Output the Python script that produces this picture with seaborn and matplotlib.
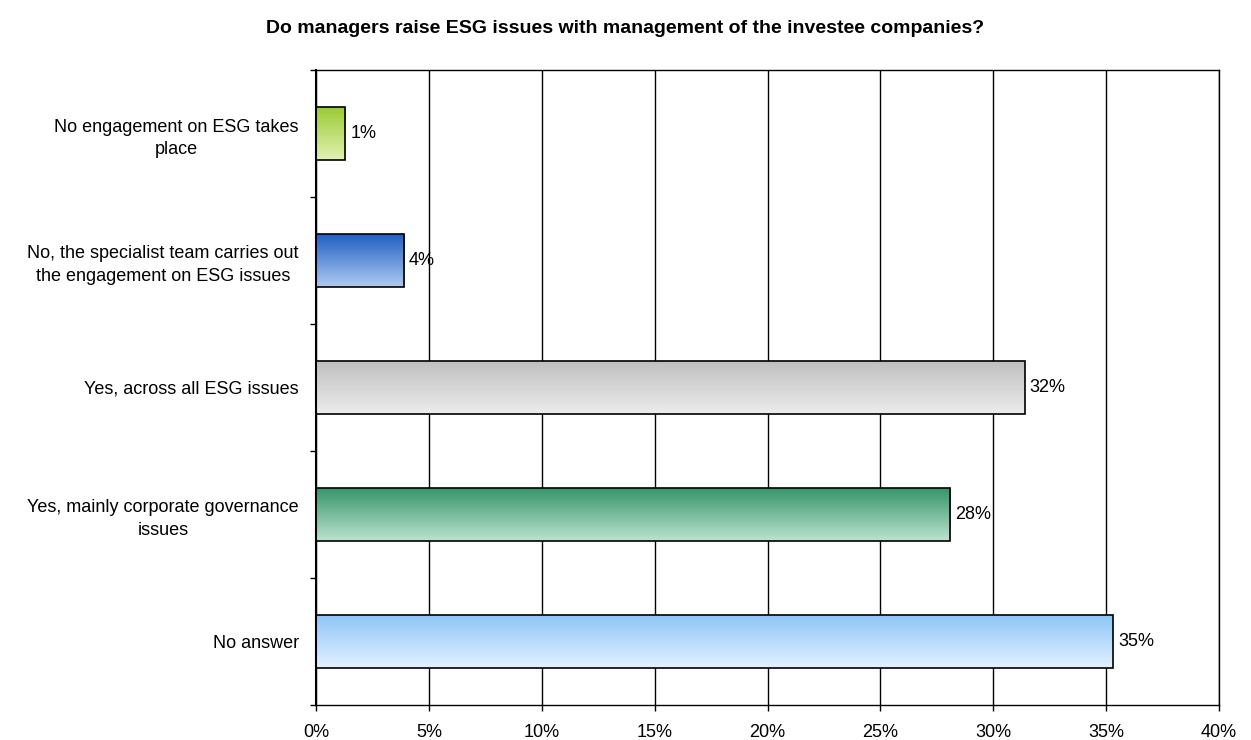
import seaborn as sns
import numpy as np
import matplotlib.pyplot as plt
import matplotlib.colors as mcolors
import pandas as pd

categories = [
    "No engagement on ESG takes\nplace",
    "No, the specialist team carries out\nthe engagement on ESG issues",
    "Yes, across all ESG issues",
    "Yes, mainly corporate governance\nissues",
    "No answer",
]
values = [1.3, 3.9, 31.4, 28.1, 35.3]
labels = ["1%", "4%", "32%", "28%", "35%"]
# gradient colours (top, bottom) for each bar
gradients = [
    ("#9acb34", "#e2f2b4"),
    ("#1f5fc4", "#aecbf0"),
    ("#c0c0c0", "#ececec"),
    ("#35956a", "#bde3cf"),
    ("#8ec6f8", "#e3f1ff"),
]
title = "Do managers raise ESG issues with management of the investee companies?"

sns.set_style("white")
plt.rcParams["font.family"] = ["Liberation Sans", "DejaVu Sans"]
plt.rcParams["text.color"] = "black"
plt.rcParams["xtick.color"] = "black"
plt.rcParams["ytick.color"] = "black"

df = pd.DataFrame({"cat": categories, "val": values})

fig = plt.figure(figsize=(12.51, 7.40), dpi=100)
ax = fig.add_axes([316 / 1251, 35 / 740, 903 / 1251, 635 / 740])

sns.barplot(data=df, x="val", y="cat", orient="h", width=0.41,
            color="white", edgecolor="black", linewidth=1.2, ax=ax)

# gradient fill clipped to each bar
for patch, (c_top, c_bot) in zip(ax.patches, gradients):
    x0, y0 = patch.get_x(), patch.get_y()
    w, h = patch.get_width(), patch.get_height()
    cmap = mcolors.LinearSegmentedColormap.from_list("g", [c_top, c_bot])
    grad = np.linspace(0, 1, 256).reshape(-1, 1)
    im = ax.imshow(grad, cmap=cmap, aspect="auto", origin="upper",
                   extent=[x0, x0 + w, y0 + h, y0], zorder=2)
    im.set_clip_path(patch)
    patch.set_facecolor("none")
    patch.set_zorder(3)

for i, (v, lab) in enumerate(zip(values, labels)):
    ax.text(v + 0.22, i, lab, va="center", ha="left", fontsize=13, zorder=4)

ax.set_xlim(0, 40)
ax.set_ylim(4.5, -0.5)
ax.set_xticks(np.arange(0, 41, 5))
ax.set_xticklabels([f"{t}%" for t in range(0, 41, 5)], fontsize=13)
ax.set_yticks(np.arange(-0.5, 4.6, 1))
ax.set_yticklabels([])
ax.set_yticks(range(len(categories)), minor=True)
ax.set_yticklabels(categories, minor=True, fontsize=13, multialignment="center",
                   linespacing=1.4)
ax.tick_params(axis="y", which="minor", length=0, pad=12.5)
ax.tick_params(axis="y", which="major", direction="out", length=4.5, width=1, left=True)
ax.tick_params(axis="x", direction="out", length=4.5, width=1, bottom=True, pad=9)

ax.set_axisbelow(True)
ax.grid(axis="x", color="black", linewidth=1)
ax.grid(axis="y", visible=False)
for s in ax.spines.values():
    s.set_visible(True)
    s.set_color("black")
    s.set_linewidth(1)
ax.spines["left"].set_linewidth(1.5)
ax.set_xlabel("")
ax.set_ylabel("")

fig.text(0.5, 0.961, title, ha="center", va="center", fontsize=14, fontweight="bold")

fig.savefig("out.png", dpi=100, facecolor="white")
